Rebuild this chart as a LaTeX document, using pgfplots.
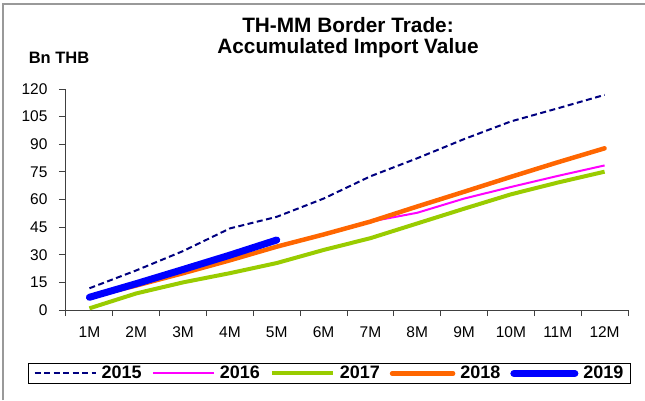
\documentclass[border=0pt]{standalone}
\usepackage{fontspec}
\setmainfont{Liberation Sans}
\usepackage{pgfplots}
\pgfplotsset{compat=1.18}

\definecolor{c2015}{HTML}{000080}
\definecolor{c2016}{HTML}{FF00FF}
\definecolor{c2017}{HTML}{99CC00}
\definecolor{c2018}{HTML}{FF6600}
\definecolor{c2019}{HTML}{0000FF}
\definecolor{axisgray}{HTML}{404040}

\begin{document}
\begin{tikzpicture}[x=1pt,y=1pt]
\useasboundingbox (0,0) rectangle (645,400);
% outer chart frame
\draw[gray!80, line width=1.5pt] (3,0) -- (3,396) -- (645,396);

\begin{axis}[
  at={(66pt,90pt)}, anchor=south west,
  scale only axis, width=562pt, height=221pt,
  xmin=0.5, xmax=12.5, ymin=0, ymax=120,
  axis lines*=left,
  axis line style={axisgray, line width=1pt},
  every tick/.style={axisgray, line width=1pt},
  tick align=outside,
  xtick={1,...,12},
  xticklabels={1M,2M,3M,4M,5M,6M,7M,8M,9M,10M,11M,12M},
  major x tick style={draw=none},
  minor xtick={0.5,1.5,...,12.5},
  minor tick length=6pt,
  ytick={0,15,...,120},
  major tick length=7pt,
  /pgf/number format/assume math mode=true,
  tick label style={font=\fontsize{15.5}{18}\selectfont},
  yticklabel style={xshift=-8pt},
  xticklabel style={yshift=-6pt},
  legend columns=5,
  legend style={at={(0.469,-0.287)}, anchor=center, draw=black,
    line width=1pt, inner xsep=5pt, inner ysep=1pt,
    font=\bfseries\fontsize{18}{20}\selectfont,
    /tikz/every odd column/.append style={column sep=3pt},
    /tikz/every even column/.append style={column sep=8pt}},
  legend image code/.code={\draw[#1] (0pt,0pt) -- (61pt,0pt);},
]
\addplot[c2015, line width=2pt, dash pattern=on 6pt off 3.5pt] coordinates {
  (1,11.8) (2,21.5) (3,32) (4,44.3) (5,50.6) (6,60.5) (7,72.6) (8,82.4)
  (9,92.8) (10,102.4) (11,109.5) (12,116.8)};
\addlegendentry{2015}
\addplot[c2016, line width=2pt] coordinates {
  (1,7) (2,13.4) (3,20.2) (4,27.2) (5,34.5) (6,41.1) (7,48) (8,52.8)
  (9,60.5) (10,66.8) (11,72.8) (12,78.5)};
\addlegendentry{2016}
\addplot[c2017, line width=4pt] coordinates {
  (1,0.9) (2,9) (3,15) (4,20) (5,25.5) (6,32.6) (7,39) (8,47)
  (9,55) (10,62.8) (11,69.2) (12,75.1)};
\addlegendentry{2017}
\addplot[c2018, line width=4.5pt, line cap=round] coordinates {
  (1,7) (2,13.3) (3,20) (4,27) (5,34.4) (6,41) (7,48) (8,56.2)
  (9,64.2) (10,72.3) (11,80.2) (12,87.8)};
\addlegendentry{2018}
\addplot[c2019, line width=7pt, line cap=round] coordinates {
  (1,6.9) (2,14.3) (3,22) (4,29.8) (5,38)};
\addlegendentry{2019}
\end{axis}

\node[font=\bfseries\fontsize{20.8}{21}\selectfont, align=center] at (348,362) {TH-MM Border Trade:\\Accumulated Import Value};
\node[font=\bfseries\fontsize{16.5}{18}\selectfont] at (59,342) {Bn THB};
\end{tikzpicture}
\end{document}
